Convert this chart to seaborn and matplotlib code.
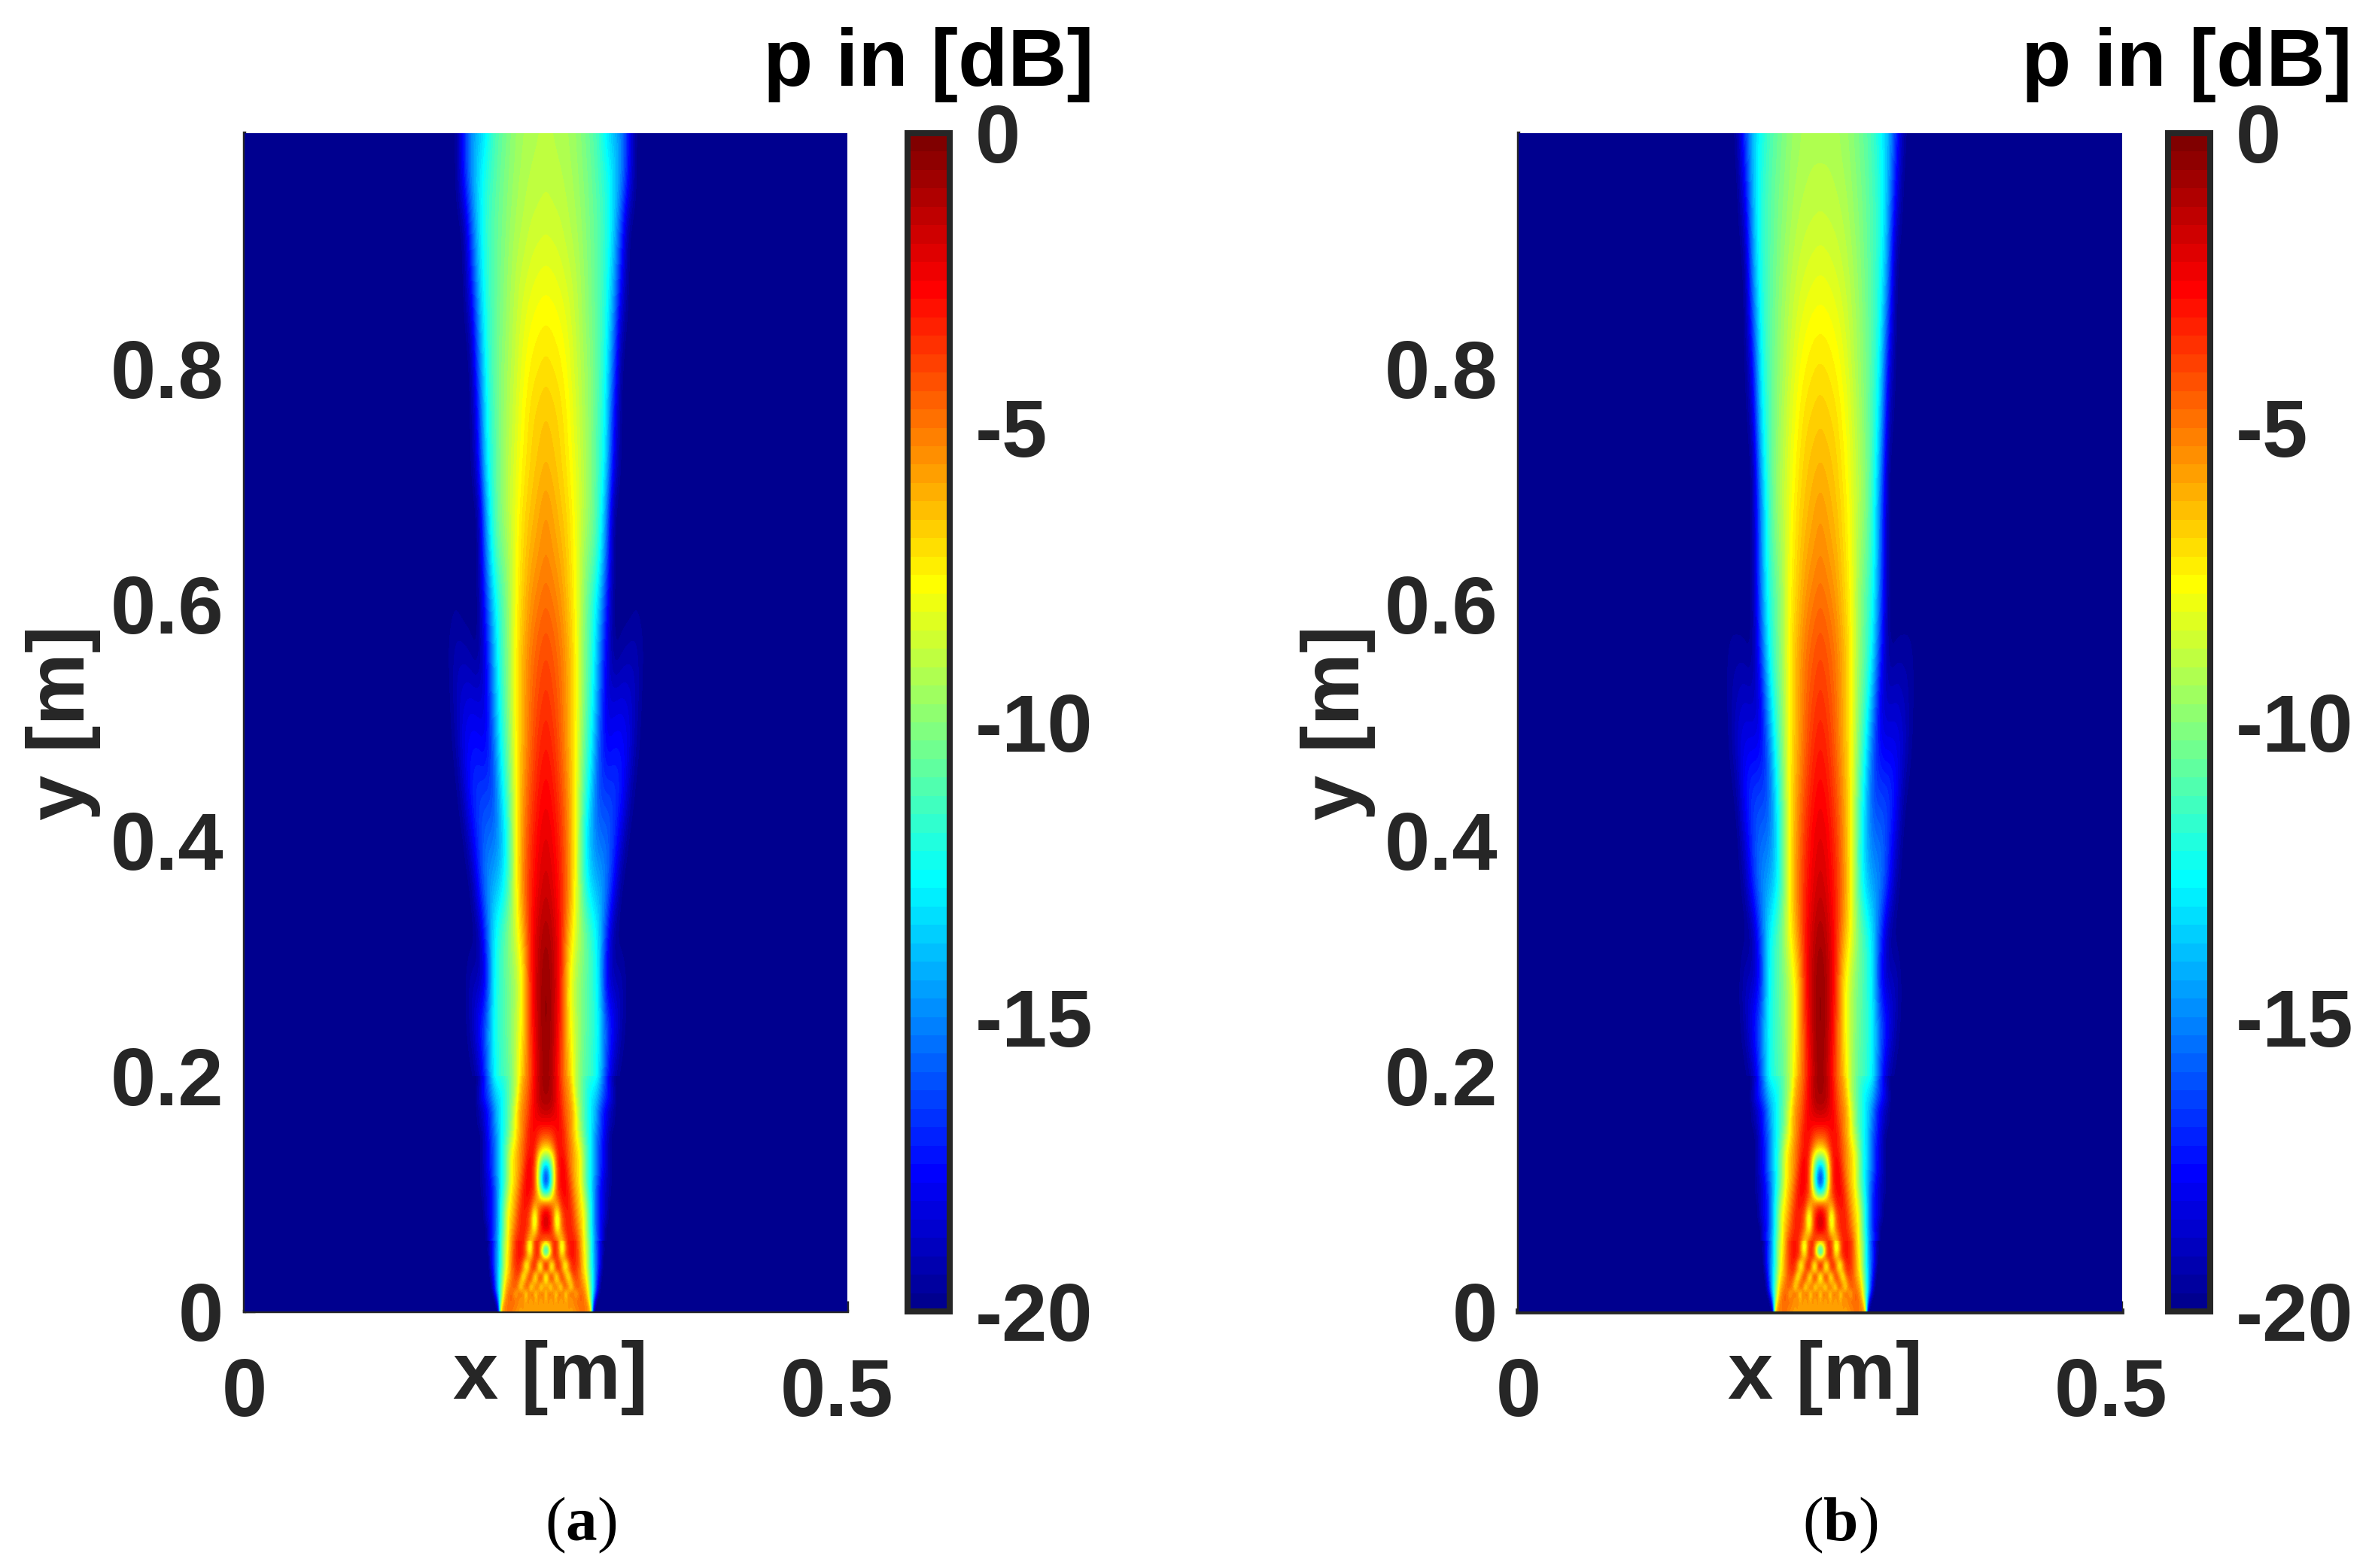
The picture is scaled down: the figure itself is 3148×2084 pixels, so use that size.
import numpy as np
import seaborn as sns
import matplotlib
matplotlib.use("Agg")
import matplotlib.pyplot as plt
from matplotlib.colors import LinearSegmentedColormap
from matplotlib.transforms import ScaledTranslation

# values in dB, half profile from the beam axis outwards
# rows that stop early are background (-20) from there on

# y 0 .. 0.06, the lattice right in front of the source
base_y = [0.000, 0.005, 0.010, 0.015, 0.020, 0.025, 0.030, 0.035, 0.040, 0.045, 0.050, 0.055, 0.060]
base_db = [
    [-6, -5.5, -6, -5.5, -6, -5.5, -6, -5.5, -6, -5.5, -6, -5.5, -5.5, -5, -5, -5, -5, -5.5, -7],
    [-6, -5.5, -6, -5.5, -6, -5.5, -6, -5.5, -6, -5.5, -5.5, -5.5, -5, -5, -4.8, -5, -5, -6, -9, -17],
    [-6.5, -5, -6.5, -5, -6.5, -5, -6.5, -5, -6.5, -5, -6, -5, -5, -4.8, -4.5, -4.8, -5.5, -7, -10.5, -15, -19],
    [-7.5, -5, -4.5, -5.5, -7.5, -5, -4.5, -5.5, -7.5, -5.5, -4.5, -5, -6.5, -5, -4.5, -5, -6, -8, -11, -14, -17, -19.5],
    [-5, -6, -8, -5.5, -4.5, -6, -8, -5, -4.5, -5.5, -7.5, -5.5, -4.5, -4.5, -5, -5.5, -6.5, -8.5, -11, -13.5, -16, -18.5],
    [-7.5, -6, -5, -5, -6.5, -6.5, -5, -4.5, -5, -6.5, -6.5, -5, -4.3, -4.5, -5, -6, -7, -9, -11.5, -13.5, -16, -18, -19.8],
    [-8.5, -6, -3.5, -5, -7.8, -6, -3.8, -4.5, -6.5, -8, -5.5, -4, -4, -4.5, -5.5, -6.5, -7.5, -9.5, -11.5, -13.5, -15.5, -17.5, -19.5],
    [-4, -5, -7.5, -6.5, -4.5, -4, -4.5, -6.5, -7, -5.5, -4, -3.5, -3.8, -4.5, -5.5, -6.8, -8, -9.8, -11.8, -13.5, -15.5, -17.3, -19],
    [-3, -4.5, -7.8, -7, -4, -3.3, -4.5, -7, -8, -5.5, -3.8, -3.3, -3.5, -4.3, -5.5, -7, -8.2, -10, -12, -13.8, -15.5, -17, -18.5],
    [-7, -5.5, -4.5, -4, -3.5, -4.5, -6, -6, -5, -3.8, -3, -3, -3.5, -4.3, -5.7, -7, -8.3, -10, -12, -13.8, -15.5, -17, -18.5],
    [-12.5, -10.5, -6.5, -3.5, -3.5, -4.5, -7.5, -7, -4.5, -3.3, -3, -3, -3.5, -4.3, -5.8, -7.2, -8.5, -10, -12, -14, -15.5, -17, -18.5, -19.5],
    [-11, -9, -6, -3.5, -3.5, -5, -8.5, -8, -4.8, -3.3, -3, -3, -3.5, -4.5, -6, -7.3, -8.7, -10, -12, -14, -15.5, -17, -18.5, -19.5],
    [-5.5, -5, -4.5, -3.5, -3.5, -5, -7.5, -6.5, -4.2, -3.2, -3, -3, -3.6, -4.6, -6, -7.4, -8.8, -10.2, -12, -14, -16, -17.2, -18.5],
]

# y 0.06 .. 0.20
near_y = [0.06, 0.07, 0.08, 0.09, 0.10, 0.11, 0.12, 0.13, 0.14, 0.15, 0.16, 0.17, 0.18, 0.19, 0.20]
near_db = [
    [-5.5, -4.7, -3.5, -4, -7.5, -5, -3.2, -3, -3.6, -5.2, -7.4, -9.5, -12, -14.7, -16.5, -18],
    [-1.5, -2.5, -4.5, -9, -5, -3.5, -3, -3.5, -4.5, -6, -7.5, -10, -12.5, -15, -17, -18.5],
    [-1.5, -2.5, -5, -10, -5, -3.5, -3, -3.5, -5, -6.5, -7.5, -10, -12.5, -15, -17, -18, -19],
    [-3.5, -4, -5, -6, -3.5, -3, -3, -4, -5.5, -7, -8, -10.5, -12.5, -15, -17, -18, -19],
    [-12, -11, -7, -4, -3, -2.5, -3, -4.5, -6, -7, -9, -11, -13, -15, -17, -18, -19, -19.5],
    [-18, -14, -9, -4, -2.5, -2.5, -3.5, -5, -6.5, -7.5, -9.5, -11.5, -13, -15, -16.5, -18, -19, -19.5],
    [-16, -13, -8.5, -4, -2.5, -2.5, -4, -5.5, -6.5, -7.5, -9.5, -11.5, -13, -14.5, -16, -17.5, -18.5, -19.5],
    [-10.5, -10, -7.5, -3.5, -2.5, -3, -4.5, -5.5, -6.5, -7.5, -9.5, -11.5, -13, -14.5, -16, -17.5, -18.5, -19.5],
    [-6.5, -6, -4.5, -3, -3, -3.5, -4.5, -5.5, -7, -8, -10, -11.5, -13, -14.5, -16, -17.5, -18.5, -19.5],
    [-4, -4, -3.5, -2.8, -2.8, -3.5, -5, -6, -7.5, -9, -10.5, -12, -13, -14.5, -16, -17, -18.5, -19.5],
    [-2.5, -2.5, -2.5, -2.5, -3, -4, -5, -6, -7.5, -9.5, -11, -12, -13, -14, -15.5, -17, -18, -19, -19.5],
    [-1.5, -1.5, -2, -2.5, -3, -4.5, -5, -6, -8, -9.5, -11, -12, -13, -14, -15.5, -17, -18, -19, -19.5],
    [-1, -1, -1.5, -2.5, -3.5, -4.5, -5.5, -6.5, -8.5, -10, -11, -12, -13, -13.5, -14.5, -16, -17, -18, -19],
    [-0.7, -1, -1.5, -2.5, -3.5, -5, -5.5, -7, -9, -10, -11, -12, -12.5, -13, -14, -15.5, -16.8, -18, -19.3],
    [-0.5, -0.8, -1.5, -2.5, -4, -5, -6, -7.5, -9, -10, -11, -11.5, -12, -12.2, -13, -15, -16.8, -18.3, -19.5],
]

# y 0.20 .. 1.00
far_y = [0.20, 0.24, 0.28, 0.32, 0.36, 0.40, 0.44, 0.48, 0.52, 0.56, 0.60,
         0.64, 0.68, 0.72, 0.76, 0.80, 0.84, 0.88, 0.92, 0.96, 1.00]
far_db_a = [
    [-0.5, -1.5, -4, -6, -9, -11, -11.5, -13, -16.8, -19.5],
    [-0.3, -1.2, -3.5, -7, -9, -10.5, -11.5, -12.5, -15.5, -17.5, -19.3],
    [-0.3, -1.2, -3, -7.5, -9.5, -10.5, -11.5, -12.8, -18.5, -19.2, -19],
    [-0.8, -1.5, -3, -6, -8.5, -10, -11.5, -13, -16.5],
    [-1.5, -2.2, -3.2, -5, -8, -11.5, -13.5, -14.2, -15, -17.5],
    [-2, -2.5, -3.5, -5.3, -7.8, -12, -14.5, -15.5, -15.5, -16.5, -18.5],
    [-2.5, -3, -4, -5.5, -7.8, -11, -13.5, -16.5, -16.5, -16.5, -17, -19],
    [-3, -3.5, -4.5, -6, -7.5, -10.5, -12.5, -16, -18, -17.5, -17.5, -18, -19.5],
    [-3.5, -4, -4.7, -6, -7.5, -10, -12, -15, -18.5, -18.5, -18.3, -18.5, -19],
    [-4, -4.4, -5, -6, -7.5, -10, -11.5, -14.5, -18, -20, -19.5, -19.2, -19.2, -19.7],
    [-4.6, -5, -5.5, -6.5, -7.7, -9.8, -11.5, -13.5, -17, -20, -20, -20, -19.7, -19.9],
    [-5.2, -5.6, -6, -6.8, -7.8, -9.5, -10.5, -12, -15.5],
    [-5.5, -6, -6.5, -7, -8, -9, -10, -11.5, -14.5],
    [-6.2, -6.5, -6.8, -7.4, -8.2, -9, -10, -11.5, -13, -18],
    [-6.5, -6.7, -7, -7.6, -8.4, -9.2, -10, -11.3, -12.8, -17.5],
    [-7, -7.2, -7.4, -7.9, -8.6, -9.3, -10, -11, -12.5, -16],
    [-7.5, -7.6, -7.8, -8.2, -8.8, -9.5, -10.2, -11, -12.2, -15, -19],
    [-8, -8.1, -8.3, -8.6, -9, -9.6, -10.3, -11, -12, -14, -17.5],
    [-8.5, -8.6, -8.7, -9, -9.3, -9.8, -10.4, -11, -11.8, -13.5, -16.5],
    [-8.8, -8.9, -9, -9.2, -9.5, -10, -10.5, -11.2, -12, -13.2, -14.8, -17.5],
    [-9, -9.1, -9.2, -9.4, -9.7, -10.2, -10.8, -11.5, -13, -14, -15, -17.5],
]
far_db_b = [
    [-0.5, -1.5, -4, -6, -9, -11, -11.5, -13, -16.8, -19.5],
    [-0.3, -1.2, -3.5, -7, -9, -10.5, -11.5, -12.8, -15.5, -17.5, -19.3],
    [-0.3, -1.2, -3, -7, -9, -10.5, -11.5, -13, -18, -19, -18.8],
    [-0.8, -1.5, -3, -5.5, -7.5, -10, -11.5, -13.2, -16.5, -19.8],
    [-1.5, -2.2, -3.2, -5, -7.3, -11, -13.5, -14.5, -15, -17, -19.5],
    [-2, -2.5, -3.5, -5.3, -7.3, -11, -14, -15.5, -15.5, -16.5, -18.5],
    [-2.5, -3, -4, -5.5, -7.3, -10.5, -13.5, -16.5, -16.5, -16.5, -17.3, -19.5],
    [-3, -3.5, -4.5, -6, -7.3, -10, -12.5, -16, -18, -18, -18, -18.5, -19.7],
    [-3.5, -4, -4.7, -6, -7.3, -9.8, -11.5, -14.5, -18.5, -19, -18.7, -19, -19.5],
    [-4, -4.4, -5, -6, -7.3, -9.5, -11, -13, -17, -19.9, -19.6, -19.5, -19.5],
    [-4.6, -5, -5.5, -6.5, -7.5, -9.5, -11, -12.5, -16],
    [-5.2, -5.6, -6, -6.8, -7.7, -9.3, -10.5, -12, -15.5],
    [-5.6, -6, -6.4, -7, -7.9, -9, -10, -12, -15.5],
    [-6.2, -6.4, -6.7, -7.3, -8.1, -9, -10, -11.5, -14.5],
    [-6.6, -6.8, -7, -7.6, -8.3, -9.2, -10.2, -11.5, -13.5, -19],
    [-7.1, -7.2, -7.5, -7.9, -8.6, -9.4, -10.2, -11.3, -13, -18],
    [-7.6, -7.7, -7.9, -8.3, -8.9, -9.5, -10.3, -11.2, -12.5, -16.5],
    [-8.1, -8.2, -8.4, -8.7, -9.1, -9.7, -10.4, -11.2, -12.3, -15],
    [-8.6, -8.7, -8.8, -9, -9.4, -9.9, -10.5, -11.2, -12, -14.5, -19],
    [-9, -9, -9.1, -9.3, -9.6, -10.1, -10.6, -11.3, -12.2, -14, -17.5],
    [-9.2, -9.2, -9.3, -9.5, -9.8, -10.3, -10.8, -11.5, -12.5, -14, -16.5, -19.5],
]

db_ticks = [-20, -15, -10, -5, 0]
x_ticks = [0, 0.5]
y_ticks = [0, 0.2, 0.4, 0.6, 0.8]
panel_names = ["a", "b"]

W, H = 3148, 2084
TEXT = "#262626"
FS = 39

sns.set_theme(style="white")
plt.rcParams["font.family"] = ["Liberation Sans"]
plt.rcParams["font.weight"] = "bold"
plt.rcParams["mathtext.fontset"] = "custom"
plt.rcParams["mathtext.bf"] = "Liberation Serif:bold"
plt.rcParams["mathtext.rm"] = "Liberation Serif"

# matlab jet(64)
jet64 = LinearSegmentedColormap.from_list(
    "jet64",
    [(0, (0, 0, 0.5625)), (7 / 63, (0, 0, 1)), (23 / 63, (0, 1, 1)),
     (39 / 63, (1, 1, 0)), (55 / 63, (1, 0, 0)), (1, (0.5, 0, 0))],
    N=64,
)


def px_axes(fig, left, top, right, bottom):
    return fig.add_axes([left / W, 1 - bottom / H, (right - left) / W, (bottom - top) / H])


def full_table(rows, half_cols, pad):
    # mirror the half profiles and fill up with background, top row first
    out = []
    for row in rows:
        row = row + [-20] * (half_cols - len(row))
        out.append([-20] * pad + row[:0:-1] + row + [-20] * pad)
    return np.array(out)[::-1]


def draw_field(ax, table, cbar_ax=None):
    sns.heatmap(table, ax=ax, cmap=jet64, vmin=-20, vmax=0, cbar=cbar_ax is not None,
                cbar_ax=cbar_ax, xticklabels=False, yticklabels=False)
    rows, cols = table.shape
    # same cells again, smoothed on screen
    ax.imshow(table, cmap=jet64, vmin=-20, vmax=0, aspect="auto", interpolation="bicubic",
              extent=(0, cols, rows, 0), zorder=3)
    ax.set_xlim(0.5, cols - 0.5)
    ax.set_ylim(rows - 0.5, 0.5)
    ax.axis("off")
    ax.set_zorder(2)


def panel(fig, name, rows_far, left, cbar_left, pos):
    right = left + 801
    top, bottom = 177, 1743
    split_near = bottom - far_y[0] * (bottom - top)
    split_base = bottom - near_y[0] * (bottom - top)

    main = px_axes(fig, left, top, right, bottom)
    main.set_xlim(0, 0.5)
    main.set_ylim(0, 1)
    main.set_xticks(x_ticks)
    main.set_xticklabels(["0", "0.5"])
    main.set_yticks(y_ticks)
    main.set_yticklabels(["0", "0.2", "0.4", "0.6", "0.8"])
    main.tick_params(axis="both", direction="in", length=5, width=1.2, color=TEXT,
                     labelsize=FS, labelcolor=TEXT, left=True, bottom=True)
    main.tick_params(axis="x", pad=22)
    main.tick_params(axis="y", pad=10)
    shift = ScaledTranslation(-14 / 200, 0, fig.dpi_scale_trans)
    lab = main.get_xticklabels()[1]
    lab.set_transform(lab.get_transform() + shift)
    for side in ["top", "right"]:
        main.spines[side].set_visible(False)
    main.spines["left"].set_linewidth(1.6)
    main.spines["left"].set_color(TEXT)
    main.spines["bottom"].set_linewidth(pos["bottom_lw"])
    main.spines["bottom"].set_color(TEXT)

    far_ax = px_axes(fig, left, top, right, split_near)
    near_ax = px_axes(fig, left, split_near, right, split_base)
    base_ax = px_axes(fig, left, split_base, right, bottom)
    cax = px_axes(fig, cbar_left, top, cbar_left + 56, bottom)

    draw_field(far_ax, full_table(rows_far, 15, 26), cbar_ax=cax)
    draw_field(near_ax, full_table(near_db, 21, 60))
    draw_field(base_ax, full_table(base_db, 25, 96))

    cbar = far_ax.collections[0].colorbar
    cbar.set_ticks(db_ticks)
    cbar.set_ticklabels(["-20", "-15", "-10", "-5", "0"])
    cbar.outline.set_visible(True)
    cbar.outline.set_linewidth(2.9)
    cbar.outline.set_edgecolor(TEXT)
    cax.tick_params(direction="in", length=5, width=1.2, color=TEXT, right=True, left=False,
                    labelsize=FS, labelcolor=TEXT, pad=12)

    fig.text(pos["xlabel"] / W, 1 - 1831 / H, "x [m]", fontsize=FS, color=TEXT,
             ha="center", va="center")
    fig.text(pos["ylabel"] / W, 1 - 960 / H, "y [m]", fontsize=FS, color=TEXT,
             ha="center", va="center", rotation=90)
    fig.text(pos["title"] / W, 1 - 114 / H, "p in [dB]", fontsize=FS, color="black",
             ha="center", va="baseline")
    fig.text(pos["caption"] / W, 1 - 2027 / H, "($\\mathbf{%s}$)" % name, fontsize=30,
             color="black", family="Liberation Serif", weight="normal", ha="center", va="center")


fig = plt.figure(figsize=(W / 200, H / 200), dpi=200, facecolor="white")
panel(fig, panel_names[0], far_db_a, 325, 1206,
      {"bottom_lw": 1.6, "xlabel": 732, "ylabel": 84, "title": 1234, "caption": 772})
panel(fig, panel_names[1], far_db_b, 2018, 2881,
      {"bottom_lw": 2.8, "xlabel": 2425, "ylabel": 1778, "title": 2906, "caption": 2445})

fig.savefig("out.png", dpi=200)
